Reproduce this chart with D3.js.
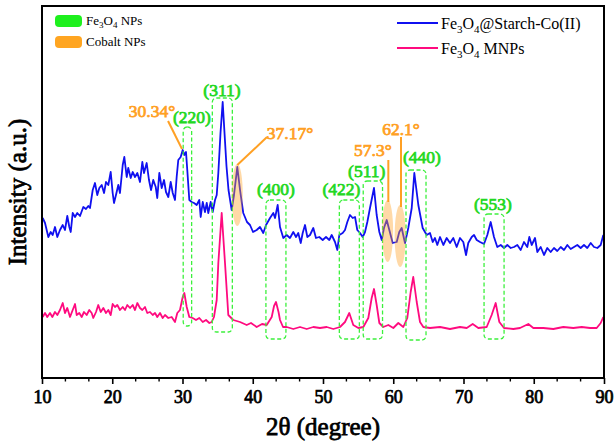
<!DOCTYPE html>
<html>
<head>
<meta charset="utf-8">
<script src="https://cdn.jsdelivr.net/npm/d3@7"></script>
<style>
  body { margin: 0; background: #fff; }
  svg text { font-family: "Liberation Serif", "Times New Roman", serif; }
</style>
</head>
<body>
<div id="chart"></div>
<script>
// 2θ (degree) and intensity (a.u.)
var starchTheta = [10.10,10.43,10.90,11.24,11.52,11.85,12.18,12.56,12.95,13.27,13.60,13.89,14.09,14.37,14.70,15.02,15.41,15.88,16.26,16.59,16.83,17.22,17.54,17.87,18.16,18.50,18.83,19.11,19.44,19.78,20.06,20.25,20.53,20.86,21.10,21.49,21.72,22.06,22.28,22.63,22.91,23.24,23.57,23.95,24.28,24.52,24.90,25.23,25.52,25.84,26.19,26.41,26.70,27.04,27.37,27.65,27.98,28.32,28.61,28.93,29.17,29.40,29.74,30.03,30.26,30.50,30.68,30.97,31.31,31.64,32.02,32.39,32.59,32.88,33.20,33.45,33.67,34.01,34.30,34.63,34.87,35.10,35.41,35.72,35.98,36.26,36.55,37.00,37.33,37.80,38.19,38.65,39.18,39.61,40.04,40.56,41.03,41.50,41.89,42.46,42.93,43.17,43.55,43.88,44.35,44.83,45.30,45.77,46.16,46.48,46.83,47.11,47.44,47.77,48.15,48.62,49.00,49.47,49.96,50.43,50.90,51.24,51.71,52.04,52.32,52.80,53.13,53.46,53.84,54.23,54.56,54.88,55.27,55.65,55.98,56.31,56.69,57.26,57.64,58.02,58.36,58.68,59.07,59.44,59.92,60.49,60.86,61.20,61.67,62.14,62.63,63.00,63.57,64.19,64.76,65.23,65.62,65.94,66.27,66.66,67.13,67.61,68.08,68.55,69.03,69.50,69.97,70.36,70.68,71.17,71.50,71.88,72.35,72.92,73.39,73.87,74.34,74.81,75.30,75.77,76.24,76.72,77.19,77.66,78.14,78.61,79.08,79.37,79.71,80.18,80.51,80.99,81.46,81.93,82.41,82.88,83.35,83.84,84.31,84.78,85.26,85.73,86.20,86.68,87.15,87.62,88.11,88.58,89.05,89.53,89.90];
var starchI = [160,155,141,146,143,151,141,148,153,148,162,151,146,165,161,165,162,171,169,172,170,188,195,183,190,193,185,196,193,206,185,175,183,193,185,213,221,201,210,200,206,201,205,196,216,205,215,198,188,198,191,180,205,190,198,186,181,196,185,178,201,218,221,228,223,226,208,178,176,175,173,178,161,176,166,175,165,176,166,178,183,205,245,276,245,212,188,168,183,211,188,165,156,153,146,148,151,145,153,160,165,160,173,151,140,143,140,146,141,145,135,145,153,141,143,150,140,141,138,141,138,143,136,128,143,145,148,156,163,160,161,148,145,141,146,156,170,190,163,146,138,150,158,148,135,136,146,150,135,150,170,205,173,150,143,145,136,140,133,141,133,140,135,140,131,140,136,123,135,141,143,138,136,134,143,156,141,131,133,130,133,130,131,133,128,136,131,141,133,140,126,131,123,130,126,130,127,131,128,133,129,131,133,130,133,130,135,131,130,133,143];

var mnpTheta = [10.10,10.43,10.75,11.14,11.47,11.85,12.18,12.56,12.95,13.27,13.60,13.99,14.37,14.70,14.94,15.31,15.65,15.98,16.36,16.73,17.07,17.30,17.69,18.01,18.36,18.73,19.11,19.44,19.78,20.06,20.39,20.72,21.10,21.49,21.82,22.14,22.53,22.91,23.24,23.57,23.95,24.28,24.66,24.99,25.37,25.76,26.09,26.41,26.80,27.18,27.51,27.98,28.46,28.93,29.26,29.64,30.03,30.26,30.60,30.97,31.45,31.92,32.39,32.88,33.35,33.82,34.16,34.48,34.87,35.10,35.58,36.05,36.52,37.23,38.19,39.14,39.75,40.56,41.32,41.99,42.70,43.03,43.31,43.67,43.88,44.31,44.83,45.77,46.73,47.68,48.62,49.57,50.53,51.47,52.42,53.13,53.74,54.31,55.03,55.74,56.45,56.93,57.26,57.64,58.02,58.58,59.30,60.01,60.72,61.43,62.00,62.48,62.85,63.34,63.81,64.28,65.23,66.66,68.08,69.50,70.46,71.31,72.11,73.30,74.01,74.58,75.10,75.77,77.09,78.04,79.23,79.94,81.36,82.78,84.21,85.63,86.83,88.01,88.96,89.53,89.90];
var mnpI = [61,65,61,65,61,66,63,68,75,65,70,61,68,74,63,65,61,66,63,68,65,60,66,73,66,70,65,68,63,74,71,73,68,71,68,73,70,73,68,75,70,68,71,65,66,63,65,61,65,60,63,60,61,56,65,68,81,85,71,61,60,58,60,56,58,55,56,61,78,115,165,115,63,58,56,53,55,51,54,53,61,72,76,66,58,51,51,49,51,49,51,50,51,49,51,56,65,53,50,51,60,80,89,73,55,51,53,50,55,51,60,86,101,76,56,51,50,51,49,51,50,54,50,51,63,75,56,50,49,50,54,50,50,49,51,50,51,50,50,55,61];

var seriesNames = ["Fe3O4@Starch-Co(II)", "Fe3O4 MNPs"];

// Fe3O4 reflections
var planeLabels = ["(220)","(311)","(400)","(422)","(511)","(440)","(553)"];
var planeTheta  = [30.7, 35.67, 43.3, 53.75, 57.1, 63.24, 74.35];

// cobalt peaks: label value and where it is marked on the curve
var cobaltLabels = ["30.34°","37.17°","57.3°","62.1°"];
var cobaltTheta  = [30.3, 37.8, 59.2, 60.98];

var xTicks = [10,20,30,40,50,60,70,80,90];

function getConfig(){
    let width = 615, height = 442;
    let margin = {top: 6, right: 11, bottom: 64, left: 42};
    let plot = {};
    plot.w = width - margin.left - margin.right;
    plot.h = height - margin.top - margin.bottom;
    plot.blue = "#1010f0";
    plot.pink = "#ff0a7f";
    plot.green = "#22d822";
    plot.boxGreen = "#3cf03c";
    plot.orange = "#ffa024";
    return {width, height, margin, plot};
}

// annotation layout (intensity units for heights)
var boxLayout = [
    {w: 1.2,  top: 251, bottom: 52, lx: 31.35, ly: 255},
    {w: 2.85, top: 280, bottom: 46, lx: 35.62, ly: 282},
    {w: 2.85, top: 178, bottom: 39, lx: 43.3,  ly: 183},
    {w: 2.85, top: 178, bottom: 39, lx: 52.63, ly: 183},
    {w: 2.75, top: 197, bottom: 39, lx: 56.22, ly: 201},
    {w: 2.85, top: 208, bottom: 38, lx: 64.09, ly: 215},
    {w: 2.85, top: 164, bottom: 39, lx: 74.2,  ly: 168}
];
var cobaltLayout = [
    {tx: 25.66, ty: 261, x1: 27.94, y1: 257, x2: 29.93, y2: 229, ey: null},
    {tx: 45.3,  ty: 239, x1: 42.03, y1: 241, x2: 37.8,  y2: 213, ey: 183},
    {tx: 57.1,  ty: 222, x1: 59.3,  y1: 218, x2: 59.3,  y2: 176, ey: 147},
    {tx: 61.1,  ty: 243, x1: 61.1,  y1: 241, x2: 61.1,  y2: 171, ey: 142}
];

// no bold face of the serif font here, so thicken it with a stroke
function bold(sel, color){
    return sel.attr("fill", color).attr("stroke", color).attr("stroke-width", 0.75);
}

function showData(){
    let config = getConfig();
    let svg = d3.select("#chart").append("svg")
        .attr("width", config.width)
        .attr("height", config.height);

    let xScale = d3.scaleLinear().domain([10, 90]).range([0, config.plot.w]);
    let yScale = d3.scaleLinear().domain([0, 372]).range([config.plot.h, 0]);

    let g = svg.append("g")
        .attr("transform", `translate(${config.margin.left},${config.margin.top})`);

    // curves
    let line = d3.line().x(d => xScale(d[0])).y(d => yScale(d[1]));
    g.append("path")
     .datum(mnpTheta.map((t, i) => [t, mnpI[i]]))
     .attr("d", line).attr("fill", "none")
     .attr("stroke", config.plot.pink).attr("stroke-width", 1.8)
     .attr("stroke-linejoin", "round");
    g.append("path")
     .datum(starchTheta.map((t, i) => [t, starchI[i]]))
     .attr("d", line).attr("fill", "none")
     .attr("stroke", config.plot.blue).attr("stroke-width", 1.8)
     .attr("stroke-linejoin", "round");

    // Fe3O4 boxes + labels
    planeTheta.forEach((t, i) => {
        let b = boxLayout[i];
        g.append("rect")
         .attr("x", xScale(t - b.w / 2))
         .attr("y", yScale(b.top))
         .attr("width", xScale(t + b.w / 2) - xScale(t - b.w / 2))
         .attr("height", yScale(b.bottom) - yScale(b.top))
         .attr("rx", 4).attr("ry", 4)
         .attr("fill", "none")
         .attr("stroke", config.plot.boxGreen)
         .attr("stroke-width", 1.3)
         .attr("stroke-dasharray", "4,2.5");
        g.append("text")
         .attr("x", xScale(b.lx))
         .attr("y", yScale(b.ly))
         .attr("text-anchor", "middle")
         .attr("font-size", 17.5)
         .text(planeLabels[i])
         .call(bold, config.plot.green);
    });

    // cobalt ellipses (translucent, over the curve) + labels + leader lines
    cobaltLayout.forEach((d, i) => {
        if (d.ey != null) {
            g.append("ellipse")
             .attr("cx", xScale(cobaltTheta[i]))
             .attr("cy", yScale(d.ey))
             .attr("rx", 5.5)
             .attr("ry", 31)
             .attr("fill", config.plot.orange)
             .attr("opacity", 0.4);
        }
        g.append("line")
         .attr("x1", xScale(d.x1)).attr("y1", yScale(d.y1))
         .attr("x2", xScale(d.x2)).attr("y2", yScale(d.y2))
         .attr("stroke", config.plot.orange).attr("stroke-width", 2);
        g.append("text")
         .attr("x", xScale(d.tx)).attr("y", yScale(d.ty))
         .attr("text-anchor", "middle")
         .attr("font-size", 17.5)
         .text(cobaltLabels[i])
         .call(bold, config.plot.orange);
    });

    // frame
    g.append("rect")
     .attr("width", config.plot.w).attr("height", config.plot.h)
     .attr("fill", "none").attr("stroke", "black").attr("stroke-width", 2);

    // x axis
    let xAx = g.append("g")
        .attr("transform", `translate(0,${config.plot.h})`)
        .call(d3.axisBottom(xScale).tickValues(xTicks).tickSize(6).tickFormat(d3.format("d")));
    xAx.select(".domain").remove();
    xAx.selectAll(".tick line").attr("stroke-width", 1.6);
    xAx.selectAll(".tick text")
       .attr("font-size", 18)
       .attr("font-family", "Liberation Serif, serif")
       .attr("dy", "0.9em")
       .call(bold, "black");
    let minor = d3.range(10, 90, 10 / 3).filter(v => Math.abs(v - Math.round(v / 10) * 10) > 0.1);
    g.append("g").selectAll("line").data(minor).join("line")
     .attr("x1", d => xScale(d)).attr("x2", d => xScale(d))
     .attr("y1", config.plot.h).attr("y2", config.plot.h + 3.5)
     .attr("stroke", "black").attr("stroke-width", 1.4);

    // axis titles
    svg.append("text")
       .attr("x", config.margin.left + config.plot.w / 2)
       .attr("y", 435)
       .attr("text-anchor", "middle")
       .attr("font-size", 25)
       .text("2θ (degree)")
       .call(bold, "black");
    svg.append("text")
       .attr("transform", `translate(26,${config.margin.top + config.plot.h / 2}) rotate(-90)`)
       .attr("text-anchor", "middle")
       .attr("font-size", 25)
       .text("Intensity (a.u.)")
       .call(bold, "black");

    // legend for series (top right)
    let leg = svg.append("g");
    [config.plot.blue, config.plot.pink].forEach((c, i) => {
        let y = 23 + i * 25;
        leg.append("line")
           .attr("x1", 397).attr("x2", 438).attr("y1", y).attr("y2", y)
           .attr("stroke", c).attr("stroke-width", 2);
        let t = leg.append("text").attr("x", 441).attr("y", y + 6).attr("font-size", 16);
        t.append("tspan").text("Fe");
        t.append("tspan").attr("font-size", 11).attr("dy", 4).text("3");
        t.append("tspan").attr("dy", -4).text("O");
        t.append("tspan").attr("font-size", 11).attr("dy", 4).text("4");
        t.append("tspan").attr("dy", -4).text(seriesNames[i].replace("Fe3O4", i == 1 ? " " : ""));
    });

    // legend for highlight colours (top left)
    let keys = [{c: "#1ef01e", name: "NPs", fe: true}, {c: "#ffa521", name: "Cobalt NPs", fe: false}];
    keys.forEach((k, i) => {
        let y = 15 + i * 21;
        svg.append("rect")
           .attr("x", 55).attr("y", y).attr("width", 27).attr("height", 12)
           .attr("rx", 4).attr("fill", k.c);
        let t = svg.append("text").attr("x", 86).attr("y", y + 10).attr("font-size", 13);
        if (k.fe) {
            t.append("tspan").text("Fe");
            t.append("tspan").attr("font-size", 9).attr("dy", 3).text("3");
            t.append("tspan").attr("dy", -3).text("O");
            t.append("tspan").attr("font-size", 9).attr("dy", 3).text("4");
            t.append("tspan").attr("dy", -3).text(" " + k.name);
        } else {
            t.text(k.name);
        }
    });
}

window.addEventListener("load", showData);
</script>
</body>
</html>
